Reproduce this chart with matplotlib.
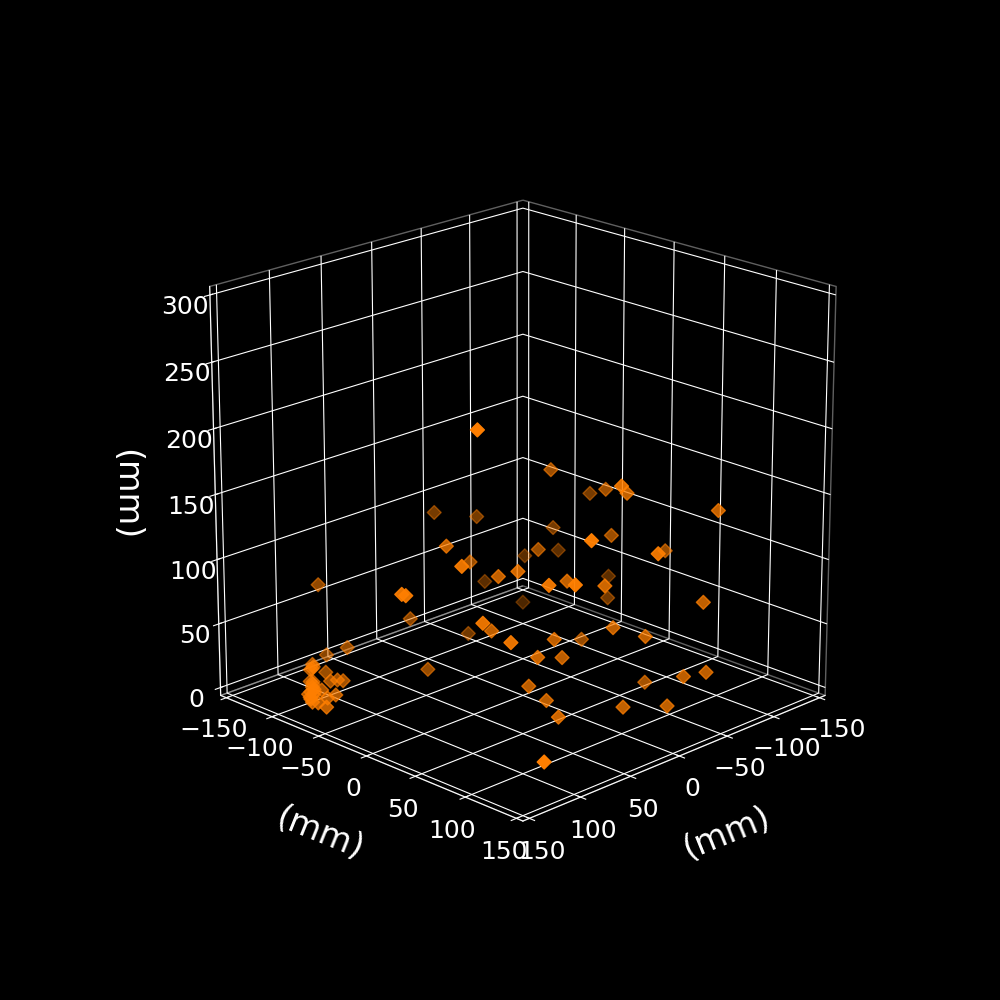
import matplotlib
matplotlib.use("Agg")
import matplotlib.pyplot as plt

plt.style.use("dark_background")

x_vals = [65,-62,-121,-88,-27,-57,-101,-36,-58,-97,-85,23,42,-45,-124,-105,-8,77,-111,-22,20,23,-80,-147,-19,-116,36,-14,37,66,111,109,-81,-115,18,74,31,-37,63,0,-55,-32,-47,24,-2,68,30,-73,-61,-65,19,12,-20,-44,26,90,67,101,103,87,96,91,89,106,113,127,118,112,111,130,131,132,119,104,100,107,109,115,122,124,129,120]
y_vals = [20,-33,-50,-2,72,49,98,-130,-107,-65,7,91,-36,-29,-86,-103,-63,16,37,113,-5,18,-121,-55,64,-26,62,31,89,-148,-10,-8,103,-115,-100,34,-1,-95,51,32,6,60,78,39,38,-115,-69,114,103,61,25,36,82,103,62,111,-139,-116,-117,-118,-103,-101,-97,-111,-104,-91,-96,-95,-81,-79,-69,-83,-81,-114,-118,-113,-108,-100,-93,-96,-88,-98]
z_vals = [220,145,107,131,168,149,137,93,90,82,98,145,112,88,51,47,79,120,87,129,91,102,28,32,92,31,107,88,115,58,101,100,73,3,31,81,53,5,68,47,24,55,49,42,34,18,3,24,21,3,14,4,3,3,3,3,5,12,10,3,3,3,3,3,3,3,3,3,3,3,3,3,3,12,13,3,3,3,3,3,3,3]

xy_ticks = [-150, -100, -50, 0, 50, 100, 150]
z_ticks = [0, 50, 100, 150, 200, 250, 300]

fig = plt.figure(figsize=(10, 10), dpi=100)
ax = fig.add_subplot(projection="3d")
ax.scatter(x_vals, y_vals, z_vals, c="#ff7f00", marker="D", s=50)

ax.set_xlim(-150, 150, view_margin=1/48)
ax.set_ylim(-150, 150, view_margin=1/48)
ax.set_zlim(0, 300, view_margin=1/48)
ax.set_xticks(xy_ticks)
ax.set_yticks(xy_ticks)
ax.set_zticks(z_ticks)
ax.set_box_aspect((1, 1, 1), zoom=0.95)
ax.view_init(elev=20, azim=45)

for a in (ax.xaxis, ax.yaxis, ax.zaxis):
    a.pane.fill = False
    a.pane.set_edgecolor("0.75")
    a.set_tick_params(labelsize=18)
    a.set_rotate_label(False)
ax.set_xlabel("(mm)", fontsize=24, labelpad=21, rotation=22)
ax.set_ylabel("(mm)", fontsize=24, labelpad=21, rotation=-22)
ax.set_zlabel("(mm)", fontsize=24, labelpad=21, rotation=-90)

fig.savefig("out.png")
